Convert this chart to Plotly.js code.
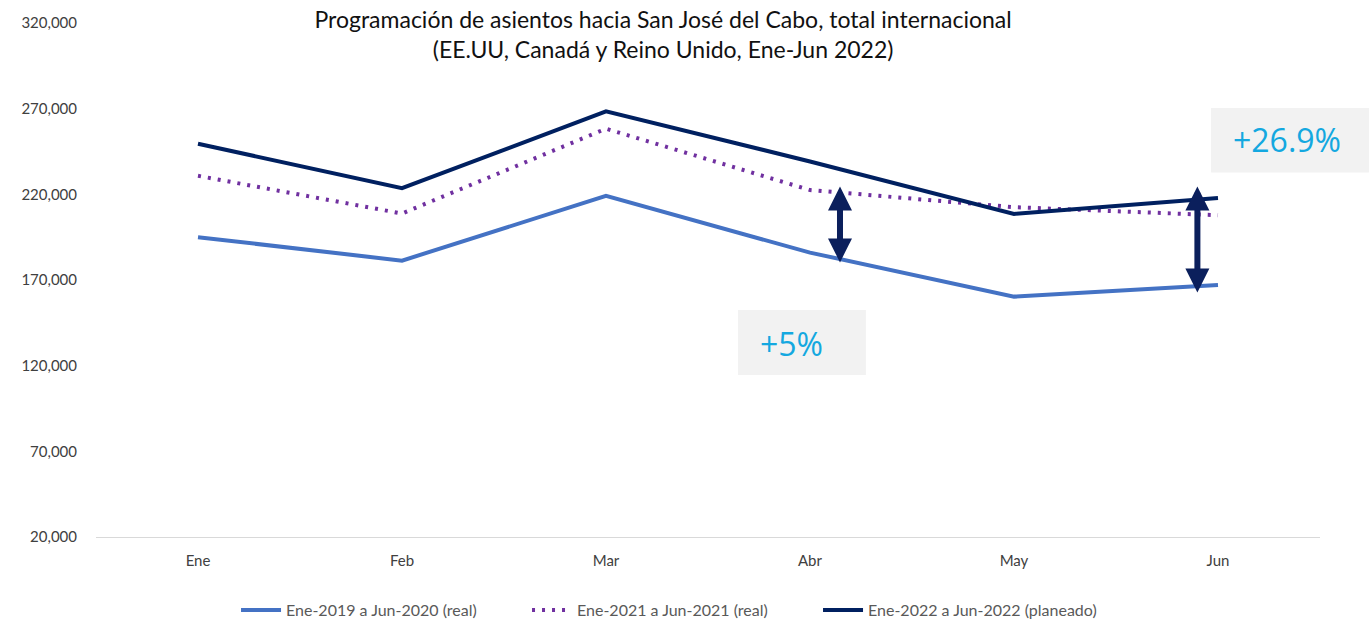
<!DOCTYPE html>
<html>
<head>
<meta charset="utf-8">
<script src="https://cdn.plot.ly/plotly-3.0.1.min.js"></script>
<style>
  html, body { margin: 0; padding: 0; background: #ffffff; }
  #chart { width: 1370px; height: 620px; }
</style>
</head>
<body>
<div id="chart"></div>
<script>
// Months shown on the category axis
const months = ['Ene', 'Feb', 'Mar', 'Abr', 'May', 'Jun'];

// Seat programming per month
const seats2019to2020 = [195000, 181300, 219100, 186000, 160300, 167100];
const seats2021 = [230800, 208800, 258300, 222500, 212500, 207800];
const seats2022 = [249500, 223600, 268400, 239200, 208600, 217800];

// Series names for the legend
const seriesNames = [
  'Ene-2019 a Jun-2020 (real)',
  'Ene-2021 a Jun-2021 (real)',
  'Ene-2022 a Jun-2022 (planeado)'
];

// Y axis ticks
const yTicks = [20000, 70000, 120000, 170000, 220000, 270000, 320000];

// Period totals and the growth of the 2022 plan against each earlier period
const sum = arr => arr.reduce((a, b) => a + b, 0);
const growthVs2019 = (sum(seats2022) / sum(seats2019to2020) - 1) * 100;
const growthVs2021 = (sum(seats2022) / sum(seats2021) - 1) * 100;
const labelVs2019 = '+' + growthVs2019.toFixed(1) + '%';
const labelVs2021 = '+' + Math.round(growthVs2021) + '%';

const traces = [
  {
    x: months, y: seats2019to2020, name: seriesNames[0],
    type: 'scatter', mode: 'lines',
    line: { color: '#4472C4', width: 4 }
  },
  {
    x: months, y: seats2021, name: seriesNames[1],
    type: 'scatter', mode: 'lines',
    line: { color: '#7030A0', width: 4, dash: '3px,7px' }
  },
  {
    x: months, y: seats2022, name: seriesNames[2],
    type: 'scatter', mode: 'lines',
    line: { color: '#002060', width: 4 }
  }
];

const arrowColor = '#0B1F5C';
function doubleArrow(xPos, yTop, yBottom) {
  return {
    x: xPos, y: yTop, ax: xPos, ay: yBottom,
    xref: 'x', yref: 'y', axref: 'x', ayref: 'y',
    text: '', showarrow: true,
    arrowside: 'end+start',
    arrowhead: 2, startarrowhead: 2,
    arrowsize: 0.8, startarrowsize: 0.8,
    arrowwidth: 6, arrowcolor: arrowColor,
    standoff: 0, startstandoff: 0
  };
}

const layout = {
  width: 1370,
  height: 620,
  margin: { l: 96, r: 50, t: 23, b: 83, pad: 0, autoexpand: false },
  paper_bgcolor: '#ffffff',
  plot_bgcolor: '#ffffff',
  font: { family: 'Lato, "Open Sans", sans-serif', color: '#595959' },
  showlegend: true,
  hovermode: false,
  title: {
    text: 'Programación de asientos hacia San José del Cabo, total internacional<br>(EE.UU, Canadá y Reino Unido, Ene-Jun 2022)',
    font: { family: 'Lato, "Open Sans", sans-serif', size: 23, color: '#111111' },
    x: 0.484, xref: 'container', xanchor: 'center',
    y: 0.955, yref: 'container', yanchor: 'top'
  },
  xaxis: {
    type: 'category',
    range: [-0.5, 5.5],
    showgrid: false,
    zeroline: false,
    showline: true,
    linecolor: '#D9D9D9',
    linewidth: 1,
    ticks: '',
    ticklabelstandoff: 10,
    tickfont: { size: 15, color: '#404040' },
    fixedrange: true
  },
  yaxis: {
    range: [20000, 320000],
    tickvals: yTicks,
    tickformat: ',d',
    showgrid: false,
    zeroline: false,
    showline: false,
    ticks: '',
    ticklabelstandoff: 18,
    tickfont: { size: 15, color: '#404040' },
    fixedrange: true
  },
  legend: {
    orientation: 'h',
    xref: 'paper', x: 0.1144, xanchor: 'left',
    yref: 'container', y: 0.0161, yanchor: 'middle',
    font: { size: 16, color: '#595959' },
    entrywidth: 236,
    itemwidth: 40,
    bgcolor: 'rgba(0,0,0,0)'
  },
  shapes: [
    {
      type: 'rect', xref: 'paper', yref: 'paper',
      x0: 0.5245, x1: 0.629, y0: 0.315, y1: 0.4417,
      fillcolor: '#F2F2F2', line: { width: 0 }, layer: 'below'
    },
    {
      type: 'rect', xref: 'paper', yref: 'paper',
      x0: 0.911, x1: 1.040, y0: 0.709, y1: 0.8346,
      fillcolor: '#F2F2F2', line: { width: 0 }, layer: 'below'
    }
  ],
  annotations: [
    doubleArrow(3.147, 224600, 179400),
    doubleArrow(4.899, 224600, 161850),
    {
      xref: 'paper', yref: 'paper', x: 0.541, y: 0.377,
      xanchor: 'left', yanchor: 'middle',
      text: labelVs2021, showarrow: false,
      font: { family: '"Open Sans", sans-serif', size: 32, color: '#14A8E0' }
    },
    {
      xref: 'paper', yref: 'paper', x: 0.927, y: 0.773,
      xanchor: 'left', yanchor: 'middle',
      text: labelVs2019, showarrow: false,
      font: { family: '"Open Sans", sans-serif', size: 32, color: '#14A8E0' }
    }
  ]
};

Plotly.newPlot('chart', traces, layout, { displayModeBar: false, staticPlot: true });
</script>
</body>
</html>
